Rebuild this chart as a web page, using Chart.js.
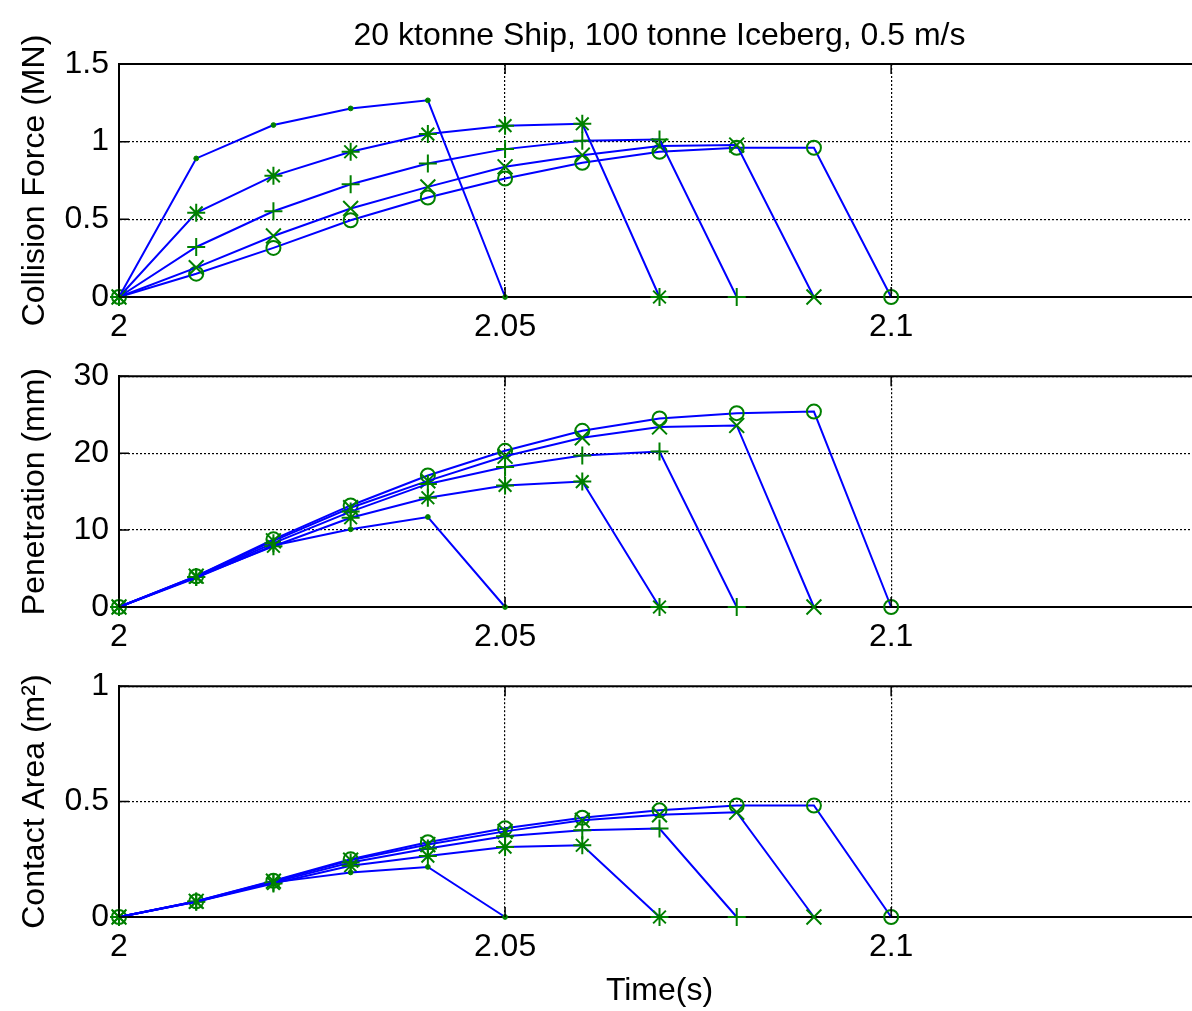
<!DOCTYPE html>
<html>
<head>
<meta charset="utf-8">
<title>Ship / iceberg collision</title>
<script src="https://cdn.jsdelivr.net/npm/chart.js@4.4.0/dist/chart.umd.min.js"></script>
<style>
    html, body { margin: 0; padding: 0; background: #fff; overflow: hidden; }
    #wrap { position: relative; width: 1192px; height: 1011px; overflow: hidden; }
    #wrap canvas { position: absolute; left: 0; }
</style>
</head>
<body>
<div id="wrap">
    <canvas id="force-canvas" width="1200" height="347" style="top:0px"></canvas>
    <canvas id="pen-canvas" width="1200" height="310" style="top:347px"></canvas>
    <canvas id="area-canvas" width="1200" height="354" style="top:657px"></canvas>
</div>
<script>
const FONT = "'Liberation Sans', Arial, Helvetica, sans-serif";

// time steps (s), shared by every run
let timeSteps = [2.00, 2.01, 2.02, 2.03, 2.04, 2.05, 2.06, 2.07, 2.08, 2.09, 2.10];

let xTicks = [2, 2.05, 2.1];
let xTickLabels = ['2', '2.05', '2.1'];
let forceTicks = [0, 0.5, 1, 1.5];
let forceTickLabels = ['0', '0.5', '1', '1.5'];
let penTicks = [0, 10, 20, 30];
let penTickLabels = ['0', '10', '20', '30'];
let areaTicks = [0, 0.5, 1];
let areaTickLabels = ['0', '0.5', '1'];

// collision force (MN), one array per run: '.', '*', '+', 'x', 'o'
let forceDot    = [0, 0.892, 1.107, 1.214, 1.266, 0];
let forceStar   = [0, 0.542, 0.780, 0.935, 1.049, 1.103, 1.115, 0];
let forcePlus   = [0, 0.322, 0.552, 0.726, 0.860, 0.952, 1.006, 1.014, 0];
let forceCross  = [0, 0.189, 0.393, 0.570, 0.709, 0.838, 0.913, 0.972, 0.978, 0];
let forceCircle = [0, 0.150, 0.316, 0.494, 0.640, 0.763, 0.864, 0.935, 0.961, 0.961, 0];

// penetration (mm)
let penDot    = [0, 3.8, 8.0, 10.1, 11.7, 0];
let penStar   = [0, 3.9, 7.9, 11.6, 14.2, 15.8, 16.3, 0];
let penPlus   = [0, 3.9, 8.3, 12.4, 16.0, 18.2, 19.7, 20.2, 0];
let penCross  = [0, 4.0, 8.6, 12.9, 16.4, 19.6, 22.0, 23.4, 23.6, 0];
let penCircle = [0, 4.0, 8.8, 13.2, 17.1, 20.3, 22.9, 24.5, 25.2, 25.4, 0];

// contact area (m^2)
let areaDot    = [0, 0.066, 0.150, 0.193, 0.217, 0];
let areaStar   = [0, 0.066, 0.145, 0.222, 0.264, 0.303, 0.311, 0];
let areaPlus   = [0, 0.067, 0.150, 0.236, 0.297, 0.350, 0.376, 0.383, 0];
let areaCross  = [0, 0.068, 0.155, 0.246, 0.314, 0.371, 0.419, 0.443, 0.454, 0];
let areaCircle = [0, 0.068, 0.157, 0.250, 0.324, 0.385, 0.430, 0.462, 0.483, 0.483, 0];

// matlab-ish markers for the five runs
let markers = [
    {style: 'circle', radius: 2.4, filled: true, width: 1},
    {style: 'star', radius: 9, filled: false, width: 2},
    {style: 'cross', radius: 9, filled: false, width: 2},
    {style: 'crossRot', radius: 10.5, filled: false, width: 2},
    {style: 'circle', radius: 7, filled: false, width: 2}
];

function toPoints(values) {
    let pts = [];
    for (let i = 0; i < values.length; i++) {
        pts.push({x: timeSteps[i], y: values[i]});
    }
    return pts;
}

function makeDatasets(series) {
    return series.map((values, k) => {
        let m = markers[k];
        return {
            data: toPoints(values),
            showLine: true,
            borderColor: '#0000ff',
            borderWidth: 2,
            fill: false,
            tension: 0,
            pointStyle: m.style,
            pointRadius: m.radius,
            pointHoverRadius: m.radius,
            pointBorderColor: '#008000',
            pointBackgroundColor: m.filled ? '#008000' : 'rgba(0,0,0,0)',
            pointBorderWidth: m.width,
            clip: false
        };
    });
}

// top border + small inward tick marks, like the matlab axes box
const matlabFrame = {
    id: 'matlabFrame',
    afterDraw(chart) {
        const {ctx, chartArea: a, scales} = chart;
        ctx.save();
        ctx.strokeStyle = '#000';
        ctx.lineWidth = 1.5;
        ctx.beginPath();
        scales.x.ticks.forEach(t => {
            let px = scales.x.getPixelForValue(t.value);
            ctx.moveTo(px, a.bottom); ctx.lineTo(px, a.bottom - 10);
            ctx.moveTo(px, a.top); ctx.lineTo(px, a.top + 10);
        });
        scales.y.ticks.forEach(t => {
            let py = scales.y.getPixelForValue(t.value);
            ctx.moveTo(a.left, py); ctx.lineTo(a.left + 10, py);
        });
        ctx.stroke();
        ctx.lineWidth = 2;
        ctx.beginPath();
        ctx.moveTo(a.left, a.top);
        ctx.lineTo(a.right, a.top);
        ctx.stroke();
        ctx.restore();
    }
};

function makeConfig(series, yTicks, yTickLabels, yMax, yLabel, opts) {
    return {
        type: 'scatter',
        data: {datasets: makeDatasets(series)},
        plugins: [matlabFrame],
        options: {
            responsive: false,
            animation: false,
            devicePixelRatio: 1,
            layout: {autoPadding: false, padding: {top: opts.padTop, left: 0, right: 0, bottom: 0}},
            plugins: {
                legend: {display: false},
                tooltip: {enabled: false},
                title: {
                    display: !!opts.title,
                    text: opts.title || '',
                    fullSize: false,
                    color: '#000',
                    font: {family: FONT, size: 32, weight: 'normal', lineHeight: 1.2},
                    padding: {top: 16.6, bottom: 9}
                }
            },
            scales: {
                x: {
                    type: 'linear',
                    min: 2,
                    max: 2.14,
                    afterBuildTicks: s => { s.ticks = xTicks.map(v => ({value: v})); },
                    afterFit: s => { s.height = opts.xHeight; },
                    ticks: {
                        callback: (v, i) => xTickLabels[i],
                        color: '#000',
                        font: {family: FONT, size: 32, lineHeight: 1.2},
                        padding: 11,
                        maxRotation: 0,
                        autoSkip: false
                    },
                    grid: {color: '#000', lineWidth: 1.2, drawTicks: false},
                    border: {display: true, color: '#000', width: 2, dash: [2, 2]},
                    title: {
                        display: !!opts.xLabel,
                        text: opts.xLabel || '',
                        color: '#000',
                        font: {family: FONT, size: 32, lineHeight: 1.2},
                        padding: {top: 0, bottom: 1}
                    }
                },
                y: {
                    type: 'linear',
                    min: 0,
                    max: yMax,
                    afterBuildTicks: s => { s.ticks = yTicks.map(v => ({value: v})); },
                    afterFit: s => { s.width = 119; },
                    ticks: {
                        callback: (v, i) => yTickLabels[i],
                        color: '#000',
                        font: {family: FONT, size: 32, lineHeight: 1.2},
                        padding: 10,
                        autoSkip: false
                    },
                    grid: {color: '#000', lineWidth: 1.2, drawTicks: false},
                    border: {display: true, color: '#000', width: 2, dash: [2, 2]},
                    title: {
                        display: true,
                        text: yLabel,
                        color: '#000',
                        font: {family: FONT, size: 32, lineHeight: 1.2},
                        padding: {top: 15.8, bottom: 0}
                    }
                }
            }
        }
    };
}

let forceChart = new Chart(document.getElementById('force-canvas'), makeConfig(
    [forceDot, forceStar, forcePlus, forceCross, forceCircle],
    forceTicks, forceTickLabels, 1.5, 'Collision Force (MN)',
    {padTop: 0, xHeight: 50, title: '20 ktonne Ship, 100 tonne Iceberg, 0.5 m/s'}));

let penChart = new Chart(document.getElementById('pen-canvas'), makeConfig(
    [penDot, penStar, penPlus, penCross, penCircle],
    penTicks, penTickLabels, 30, 'Penetration (mm)',
    {padTop: 27, xHeight: 50}));

let areaChart = new Chart(document.getElementById('area-canvas'), makeConfig(
    [areaDot, areaStar, areaPlus, areaCross, areaCircle],
    areaTicks, areaTickLabels, 1, 'Contact Area (m\u00B2)',
    {padTop: 26, xHeight: 94, xLabel: 'Time(s)'}));
</script>
</body>
</html>
